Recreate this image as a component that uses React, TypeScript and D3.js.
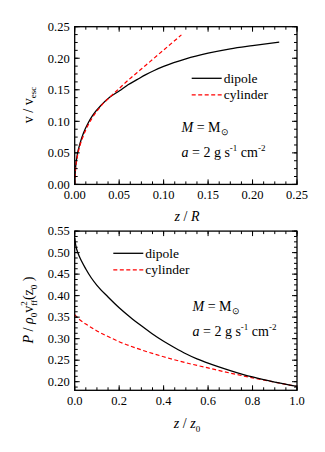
import React from "react";
import * as d3 from "d3";

// ---- Top panel data (v / v_esc vs z / R)
const topDipoleZ = [0, 0.0005, 0.001, 0.002, 0.003, 0.005, 0.0075, 0.01, 0.015, 0.02, 0.03, 0.04, 0.05, 0.06, 0.07, 0.08, 0.09, 0.1, 0.125, 0.15, 0.175, 0.2, 0.23];
const topDipoleV = [0, 0.018, 0.027, 0.039, 0.048, 0.06, 0.072, 0.082, 0.097, 0.109, 0.126, 0.139, 0.148, 0.158, 0.166, 0.174, 0.181, 0.187, 0.199, 0.208, 0.215, 0.22, 0.2255];
const topCylZ = [0, 0.001, 0.003, 0.006, 0.01, 0.02, 0.03, 0.04, 0.05, 0.06, 0.07, 0.08, 0.09, 0.1, 0.11, 0.12];
const topCylV = [0, 0.024, 0.044, 0.062, 0.078, 0.106, 0.125, 0.139, 0.152, 0.165, 0.177, 0.189, 0.201, 0.213, 0.225, 0.237];
const topXTicks = [0, 0.05, 0.1, 0.15, 0.2, 0.25];
const topYTicks = [0, 0.05, 0.1, 0.15, 0.2, 0.25];

// ---- Bottom panel data (P / rho0 v_ff^2(z0) vs z / z0)
const botDipoleZ = [0, 0.005, 0.01, 0.02, 0.03, 0.05, 0.075, 0.1, 0.15, 0.2, 0.25, 0.3, 0.35, 0.4, 0.45, 0.5, 0.55, 0.6, 0.7, 0.8, 0.9, 1.0];
const botDipoleP = [0.534, 0.516, 0.506, 0.492, 0.481, 0.462, 0.441, 0.424, 0.397, 0.372, 0.35, 0.33, 0.311, 0.294, 0.279, 0.265, 0.253, 0.243, 0.226, 0.211, 0.199, 0.189];
const botCylZ = [0, 0.02, 0.05, 0.1, 0.15, 0.2, 0.3, 0.4, 0.5, 0.6, 0.7, 0.8, 0.9, 1.0];
const botCylP = [0.356, 0.345, 0.334, 0.318, 0.305, 0.293, 0.274, 0.258, 0.244, 0.232, 0.22, 0.209, 0.199, 0.189];
const botXTicks = [0, 0.2, 0.4, 0.6, 0.8, 1.0];
const botYTicks = [0.2, 0.25, 0.3, 0.35, 0.4, 0.45, 0.5, 0.55];

const FONT = "Liberation Serif";
const fs = (size: number) => ({ fontFamily: FONT, fontSize: size });

type PanelProps = {
  x: d3.ScaleLinear<number, number>;
  y: d3.ScaleLinear<number, number>;
  xTicks: number[];
  yTicks: number[];
  xMinorStep: number;
  yMinorStep: number;
  xFmt: (v: number) => string;
  yFmt: (v: number) => string;
};

function Frame({ x, y, xTicks, yTicks, xMinorStep, yMinorStep, xFmt, yFmt }: PanelProps) {
  const [x0, x1] = x.range();
  const [yb, yt] = y.range();
  const [dx0, dx1] = x.domain();
  const [dy0, dy1] = y.domain();
  const xMinor = d3.range(Math.ceil(dx0 / xMinorStep - 1e-6) * xMinorStep, dx1 + 1e-9, xMinorStep);
  const yMinor = d3.range(Math.ceil(dy0 / yMinorStep - 1e-6) * yMinorStep, dy1 + 1e-9, yMinorStep);
  const maj = 5, min = 3;
  return (
    <g>
      {xMinor.map((v, i) => (
        <g key={"xm" + i}>
          <line x1={x(v)} x2={x(v)} y1={yb} y2={yb - min} stroke="#000" strokeWidth={1} />
          <line x1={x(v)} x2={x(v)} y1={yt} y2={yt + min} stroke="#000" strokeWidth={1} />
        </g>
      ))}
      {yMinor.map((v, i) => (
        <g key={"ym" + i}>
          <line x1={x0} x2={x0 + min} y1={y(v)} y2={y(v)} stroke="#000" strokeWidth={1} />
          <line x1={x1} x2={x1 - min} y1={y(v)} y2={y(v)} stroke="#000" strokeWidth={1} />
        </g>
      ))}
      {xTicks.map((v, i) => (
        <g key={"xt" + i}>
          <line x1={x(v)} x2={x(v)} y1={yb} y2={yb - maj} stroke="#000" strokeWidth={1} />
          <line x1={x(v)} x2={x(v)} y1={yt} y2={yt + maj} stroke="#000" strokeWidth={1} />
          <text x={x(v)} y={yb + 14.5} textAnchor="middle" style={fs(12.5)}>{xFmt(v)}</text>
        </g>
      ))}
      {yTicks.map((v, i) => (
        <g key={"yt" + i}>
          <line x1={x0} x2={x0 + maj} y1={y(v)} y2={y(v)} stroke="#000" strokeWidth={1} />
          <line x1={x1} x2={x1 - maj} y1={y(v)} y2={y(v)} stroke="#000" strokeWidth={1} />
          <text x={x0 - 5} y={y(v) + 4.3} textAnchor="end" style={fs(12.5)}>{yFmt(v)}</text>
        </g>
      ))}
      <rect x={x0} y={yt} width={x1 - x0} height={yb - yt} fill="none" stroke="#000" strokeWidth={1.3} />
    </g>
  );
}

function Legend({ x, y }: { x: number; y: number }) {
  return (
    <g>
      <line x1={x} x2={x + 30} y1={y} y2={y} stroke="#000" strokeWidth={1.3} />
      <text x={x + 32} y={y + 4.5} style={fs(13.5)}>dipole</text>
      <line x1={x} x2={x + 30} y1={y + 16.5} y2={y + 16.5} stroke="#ff0000" strokeWidth={1.2} strokeDasharray="4,2.5" />
      <text x={x + 32} y={y + 21} style={fs(13.5)}>cylinder</text>
    </g>
  );
}

function Annot({ x, y }: { x: number; y: number }) {
  return (
    <g>
      <text x={x} y={y} style={fs(14)}>
        <tspan fontStyle="italic">M</tspan>
        <tspan> =  M</tspan>
        <tspan fontSize={9} dy={3}>⊙</tspan>
      </text>
      <text x={x} y={y + 25} style={fs(14)}>
        <tspan fontStyle="italic">a</tspan>
        <tspan> = 2 g s</tspan>
        <tspan fontSize={9} dy={-6}>-1</tspan>
        <tspan dy={6}> cm</tspan>
        <tspan fontSize={9} dy={-6}>-2</tspan>
      </text>
    </g>
  );
}

export default function App() {
  const left = 74.7, right = 297;
  const xTop = d3.scaleLinear().domain([0, 0.25]).range([left, right]);
  const yTop = d3.scaleLinear().domain([0, 0.25]).range([184.4, 26.7]);
  const xBot = d3.scaleLinear().domain([0, 1]).range([left, right]);
  const yBot = d3.scaleLinear().domain([0.18, 0.55]).range([390.3, 231.1]);

  const topDip = d3.line<number>().x((_, i) => xTop(topDipoleZ[i])).y((v) => yTop(v)).curve(d3.curveMonotoneX)(topDipoleV) || "";
  const topCyl = d3.line<number>().x((_, i) => xTop(topCylZ[i])).y((v) => yTop(v)).curve(d3.curveMonotoneX)(topCylV) || "";
  const botDip = d3.line<number>().x((_, i) => xBot(botDipoleZ[i])).y((v) => yBot(v)).curve(d3.curveMonotoneX)(botDipoleP) || "";
  const botCyl = d3.line<number>().x((_, i) => xBot(botCylZ[i])).y((v) => yBot(v)).curve(d3.curveMonotoneX)(botCylP) || "";

  return (
    <svg width={325} height={452} style={{ position: "absolute", left: 0, top: 0, background: "#fff" }}>
      <rect x={0} y={0} width={325} height={452} fill="#fff" />
      {/* Top panel */}
      <path d={topDip} fill="none" stroke="#000" strokeWidth={1.3} />
      <path d={topCyl} fill="none" stroke="#ff0000" strokeWidth={1.2} strokeDasharray="4,2.5" />
      <Frame x={xTop} y={yTop} xTicks={topXTicks} yTicks={topYTicks} xMinorStep={0.0125} yMinorStep={0.0125}
        xFmt={(v) => v.toFixed(2)} yFmt={(v) => v.toFixed(2)} />
      <Legend x={191.7} y={78.3} />
      <Annot x={181.5} y={132} />
      <text x={187} y={221} textAnchor="middle" style={fs(14)}>
        <tspan fontStyle="italic">z</tspan><tspan> / </tspan><tspan fontStyle="italic">R</tspan>
      </text>
      <text transform="translate(33,105) rotate(-90)" textAnchor="middle" style={fs(14)}>
        <tspan>v / v</tspan><tspan fontSize={9} dy={3}>esc</tspan>
      </text>

      {/* Bottom panel */}
      <path d={botCyl} fill="none" stroke="#ff0000" strokeWidth={1.2} strokeDasharray="4,2.5" />
      <path d={botDip} fill="none" stroke="#000" strokeWidth={1.3} />
      <Frame x={xBot} y={yBot} xTicks={botXTicks} yTicks={botYTicks} xMinorStep={0.05} yMinorStep={0.0125}
        xFmt={(v) => v.toFixed(1)} yFmt={(v) => v.toFixed(2)} />
      <Legend x={113.3} y={253.3} />
      <Annot x={192.5} y={311} />
      <text x={187} y={428} textAnchor="middle" style={fs(14)}>
        <tspan fontStyle="italic">z</tspan><tspan>  / </tspan><tspan fontStyle="italic">z</tspan>
        <tspan fontSize={9} dy={4}>0</tspan>
      </text>
      <text transform="translate(33,310) rotate(-90)" textAnchor="middle" style={fs(14)}>
        <tspan fontStyle="italic">P</tspan>
        <tspan> / </tspan>
        <tspan fontStyle="italic">ρ</tspan>
        <tspan fontSize={9} dy={4}>0</tspan>
        <tspan dy={-4}>v</tspan>
        <tspan fontSize={9} dy={-6}>2</tspan>
        <tspan fontSize={9} dx={-4.5} dy={10}>ff</tspan>
        <tspan dy={-4}>(z</tspan>
        <tspan fontSize={9} dy={4}>0</tspan>
        <tspan dy={-4}> )</tspan>
      </text>
    </svg>
  );
}
